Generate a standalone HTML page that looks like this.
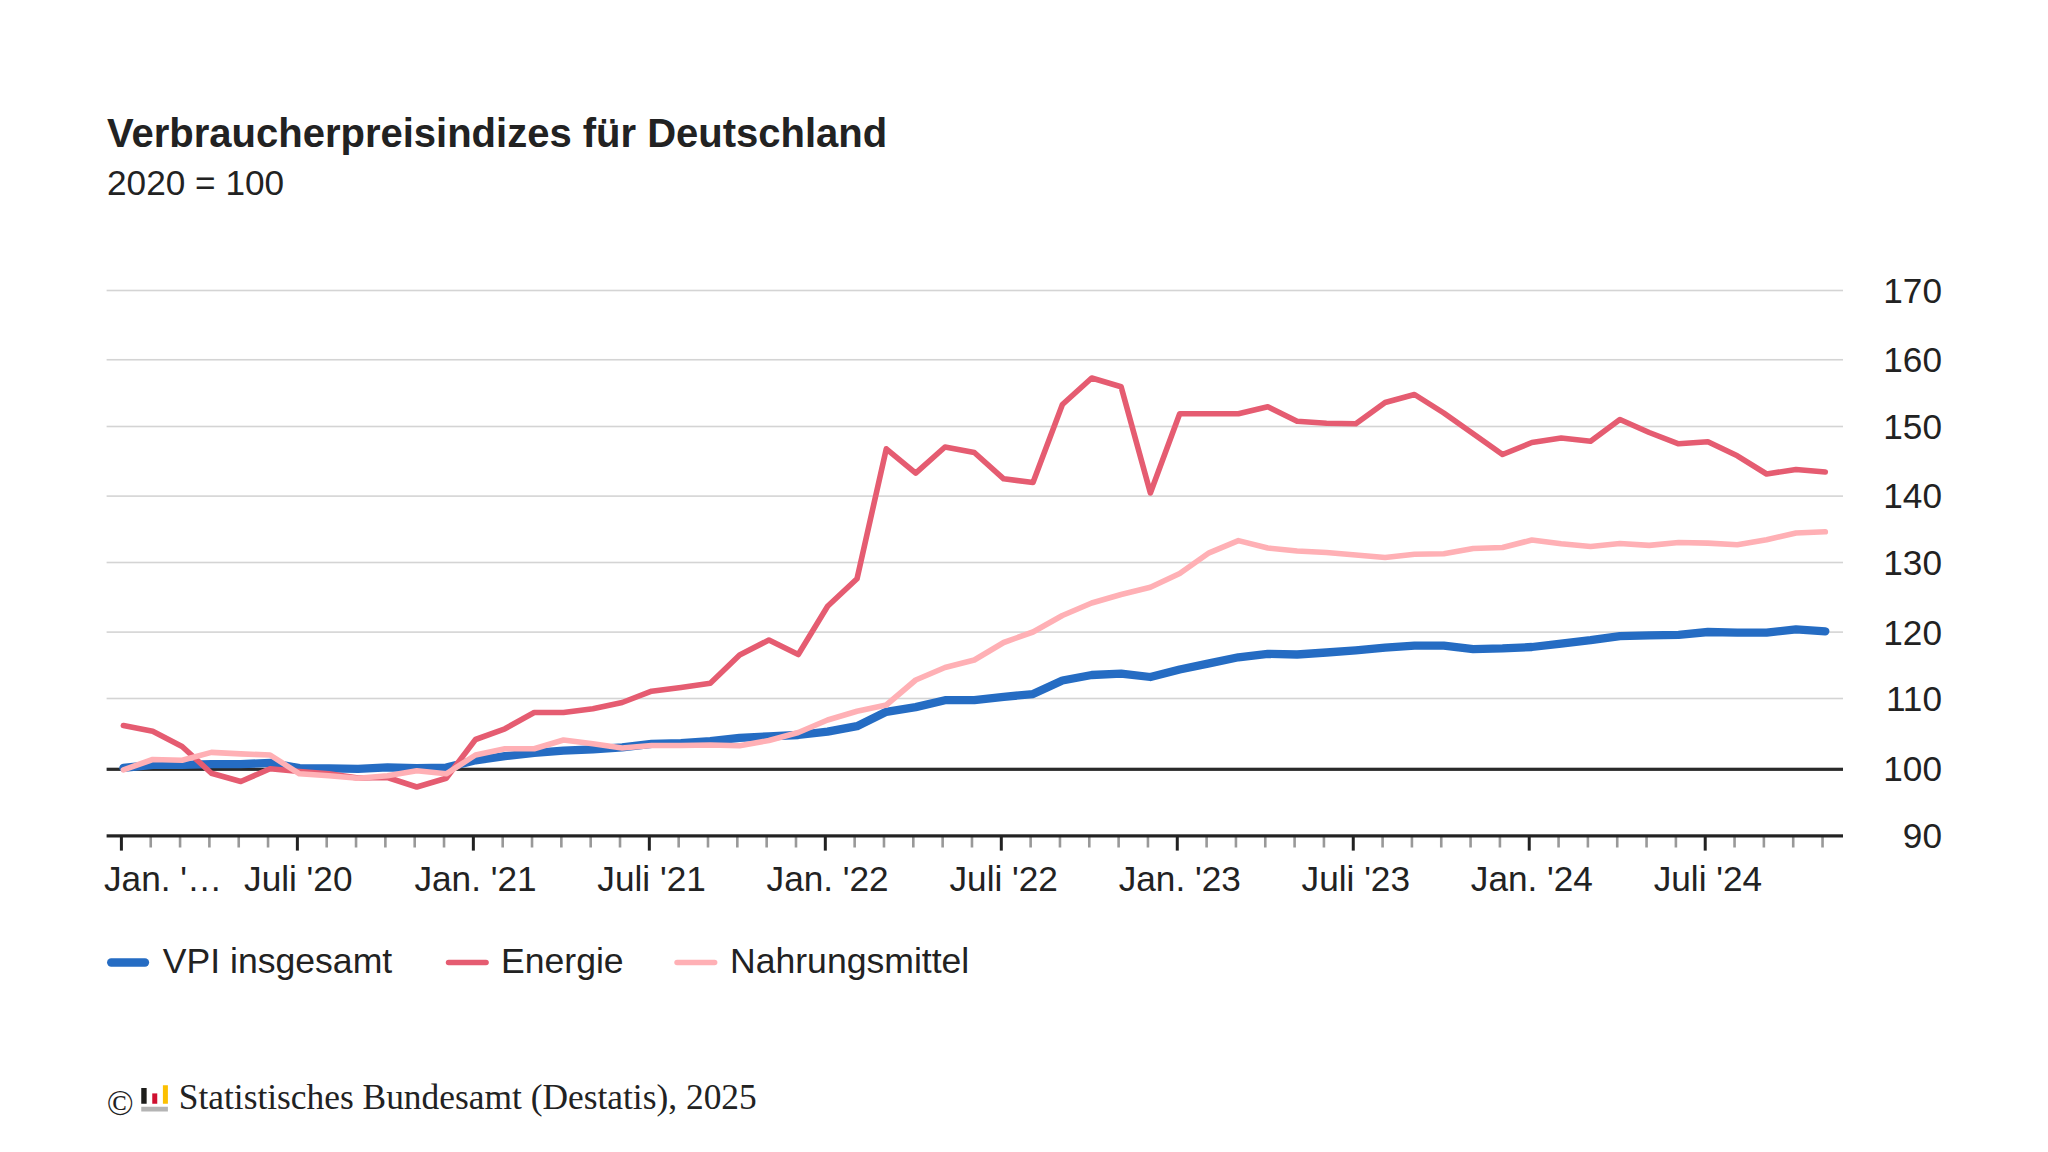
<!DOCTYPE html>
<html lang="de"><head><meta charset="utf-8"><title>Verbraucherpreisindizes für Deutschland</title>
<style>
html,body{margin:0;padding:0;background:#fff;}
body{width:2048px;height:1152px;position:relative;overflow:hidden;font-family:"Liberation Sans",sans-serif;color:#222;}
.t{position:absolute;white-space:nowrap;font-size:35.2px;line-height:40px;}
.title{left:107px;top:110px;font-size:40px;line-height:46px;font-weight:bold;}
.sub{left:107px;top:163px;}
.yl{right:106px;text-align:right;margin-top:-20px;}
.xl{top:859px;transform:translateX(-50%);}
.xl0{top:859px;left:104px;}
.lg{top:941.3px;font-size:35.6px;}
.foot{left:106px;top:1077px;font-size:35.4px;font-family:"Liberation Serif",serif;}
</style></head><body>
<svg width="2048" height="1152" viewBox="0 0 2048 1152" style="position:absolute;left:0;top:0">
<rect x="106.6" y="289.70" width="1736.4" height="1.6" fill="#d4d4d4"/>
<rect x="106.6" y="358.95" width="1736.4" height="1.6" fill="#d4d4d4"/>
<rect x="106.6" y="425.70" width="1736.4" height="1.6" fill="#d4d4d4"/>
<rect x="106.6" y="495.30" width="1736.4" height="1.6" fill="#d4d4d4"/>
<rect x="106.6" y="561.70" width="1736.4" height="1.6" fill="#d4d4d4"/>
<rect x="106.6" y="631.30" width="1736.4" height="1.6" fill="#d4d4d4"/>
<rect x="106.6" y="697.70" width="1736.4" height="1.6" fill="#d4d4d4"/>
<rect x="106.6" y="767.7" width="1736.4" height="3.2" fill="#2a2a2a"/>
<rect x="119.90" y="836" width="3" height="14.6" fill="#222"/>
<rect x="149.43" y="836" width="2.6" height="11.5" fill="#999"/>
<rect x="178.76" y="836" width="2.6" height="11.5" fill="#999"/>
<rect x="208.09" y="836" width="2.6" height="11.5" fill="#999"/>
<rect x="237.42" y="836" width="2.6" height="11.5" fill="#999"/>
<rect x="266.75" y="836" width="2.6" height="11.5" fill="#999"/>
<rect x="295.88" y="836" width="3" height="14.6" fill="#222"/>
<rect x="325.41" y="836" width="2.6" height="11.5" fill="#999"/>
<rect x="354.74" y="836" width="2.6" height="11.5" fill="#999"/>
<rect x="384.07" y="836" width="2.6" height="11.5" fill="#999"/>
<rect x="413.40" y="836" width="2.6" height="11.5" fill="#999"/>
<rect x="442.73" y="836" width="2.6" height="11.5" fill="#999"/>
<rect x="471.86" y="836" width="3" height="14.6" fill="#222"/>
<rect x="501.39" y="836" width="2.6" height="11.5" fill="#999"/>
<rect x="530.72" y="836" width="2.6" height="11.5" fill="#999"/>
<rect x="560.05" y="836" width="2.6" height="11.5" fill="#999"/>
<rect x="589.38" y="836" width="2.6" height="11.5" fill="#999"/>
<rect x="618.71" y="836" width="2.6" height="11.5" fill="#999"/>
<rect x="647.84" y="836" width="3" height="14.6" fill="#222"/>
<rect x="677.37" y="836" width="2.6" height="11.5" fill="#999"/>
<rect x="706.70" y="836" width="2.6" height="11.5" fill="#999"/>
<rect x="736.03" y="836" width="2.6" height="11.5" fill="#999"/>
<rect x="765.36" y="836" width="2.6" height="11.5" fill="#999"/>
<rect x="794.69" y="836" width="2.6" height="11.5" fill="#999"/>
<rect x="823.82" y="836" width="3" height="14.6" fill="#222"/>
<rect x="853.35" y="836" width="2.6" height="11.5" fill="#999"/>
<rect x="882.68" y="836" width="2.6" height="11.5" fill="#999"/>
<rect x="912.01" y="836" width="2.6" height="11.5" fill="#999"/>
<rect x="941.34" y="836" width="2.6" height="11.5" fill="#999"/>
<rect x="970.67" y="836" width="2.6" height="11.5" fill="#999"/>
<rect x="999.80" y="836" width="3" height="14.6" fill="#222"/>
<rect x="1029.33" y="836" width="2.6" height="11.5" fill="#999"/>
<rect x="1058.66" y="836" width="2.6" height="11.5" fill="#999"/>
<rect x="1087.99" y="836" width="2.6" height="11.5" fill="#999"/>
<rect x="1117.32" y="836" width="2.6" height="11.5" fill="#999"/>
<rect x="1146.65" y="836" width="2.6" height="11.5" fill="#999"/>
<rect x="1175.78" y="836" width="3" height="14.6" fill="#222"/>
<rect x="1205.31" y="836" width="2.6" height="11.5" fill="#999"/>
<rect x="1234.64" y="836" width="2.6" height="11.5" fill="#999"/>
<rect x="1263.97" y="836" width="2.6" height="11.5" fill="#999"/>
<rect x="1293.30" y="836" width="2.6" height="11.5" fill="#999"/>
<rect x="1322.63" y="836" width="2.6" height="11.5" fill="#999"/>
<rect x="1351.76" y="836" width="3" height="14.6" fill="#222"/>
<rect x="1381.29" y="836" width="2.6" height="11.5" fill="#999"/>
<rect x="1410.62" y="836" width="2.6" height="11.5" fill="#999"/>
<rect x="1439.95" y="836" width="2.6" height="11.5" fill="#999"/>
<rect x="1469.28" y="836" width="2.6" height="11.5" fill="#999"/>
<rect x="1498.61" y="836" width="2.6" height="11.5" fill="#999"/>
<rect x="1527.74" y="836" width="3" height="14.6" fill="#222"/>
<rect x="1557.27" y="836" width="2.6" height="11.5" fill="#999"/>
<rect x="1586.60" y="836" width="2.6" height="11.5" fill="#999"/>
<rect x="1615.93" y="836" width="2.6" height="11.5" fill="#999"/>
<rect x="1645.26" y="836" width="2.6" height="11.5" fill="#999"/>
<rect x="1674.59" y="836" width="2.6" height="11.5" fill="#999"/>
<rect x="1703.72" y="836" width="3" height="14.6" fill="#222"/>
<rect x="1733.25" y="836" width="2.6" height="11.5" fill="#999"/>
<rect x="1762.58" y="836" width="2.6" height="11.5" fill="#999"/>
<rect x="1791.91" y="836" width="2.6" height="11.5" fill="#999"/>
<rect x="1821.24" y="836" width="2.6" height="11.5" fill="#999"/>
<rect x="106.6" y="834.3" width="1736.4" height="3.2" fill="#222"/>
<polyline points="123.4,767.9 152.7,764.9 182.1,764.8 211.4,764.1 240.8,764.2 270.1,762.9 299.5,768.2 328.8,768.4 358.1,768.8 387.5,767.3 416.8,768.2 446.2,767.6 475.5,760.3 504.9,756.2 534.2,752.8 563.5,750.7 592.9,749.4 622.2,747.3 651.6,743.9 680.9,743.2 710.3,741.2 739.6,737.8 768.9,736.4 798.3,735.0 827.6,731.6 857.0,726.2 886.3,711.8 915.7,707.1 945.0,700.2 974.3,700.2 1003.7,696.8 1033.0,694.1 1062.4,680.5 1091.7,675.0 1121.1,673.6 1150.4,677.0 1179.7,669.5 1209.1,663.4 1238.4,657.3 1267.8,653.9 1297.1,654.5 1326.5,652.5 1355.8,650.4 1385.1,647.7 1414.5,645.7 1443.8,645.7 1473.2,649.1 1502.5,648.4 1531.9,647.0 1561.2,643.6 1590.6,640.2 1619.9,636.1 1649.2,635.4 1678.6,634.8 1707.9,632.0 1737.3,632.7 1766.6,632.7 1796.0,629.3 1825.3,631.3" fill="none" stroke="#256cc3" stroke-width="8.3" stroke-linejoin="round" stroke-linecap="round"/>
<polyline points="123.4,725.6 152.7,731.2 182.1,746.5 211.4,773.2 240.8,781.5 270.1,768.8 299.5,771.5 328.8,773.8 358.1,778.0 387.5,777.5 416.8,787.0 446.2,778.2 475.5,739.5 504.9,728.8 534.2,712.5 563.5,712.5 592.9,708.8 622.2,702.5 651.6,691.2 680.9,687.5 710.3,683.2 739.6,655.0 768.9,640.0 798.3,654.5 827.6,606.2 857.0,578.8 886.3,448.8 915.7,473.2 945.0,447.0 974.3,452.5 1003.7,478.8 1033.0,482.5 1062.4,404.5 1091.7,378.0 1121.1,386.8 1150.4,493.0 1179.7,413.8 1209.1,413.8 1238.4,413.8 1267.8,406.8 1297.1,421.2 1326.5,423.2 1355.8,423.8 1385.1,402.5 1414.5,394.5 1443.8,413.0 1473.2,433.8 1502.5,454.5 1531.9,442.5 1561.2,438.0 1590.6,441.2 1619.9,419.5 1649.2,432.5 1678.6,443.8 1707.9,441.8 1737.3,455.8 1766.6,474.0 1796.0,469.5 1825.3,472.0" fill="none" stroke="#e55c71" stroke-width="5.6" stroke-linejoin="round" stroke-linecap="round"/>
<polyline points="123.4,769.8 152.7,759.5 182.1,760.2 211.4,752.4 240.8,753.9 270.1,755.0 299.5,773.8 328.8,775.8 358.1,778.2 387.5,775.8 416.8,770.8 446.2,773.8 475.5,755.0 504.9,748.8 534.2,748.8 563.5,740.0 592.9,743.8 622.2,748.0 651.6,745.5 680.9,745.5 710.3,745.0 739.6,745.8 768.9,740.5 798.3,732.5 827.6,720.0 857.0,711.2 886.3,705.0 915.7,680.0 945.0,667.5 974.3,660.0 1003.7,642.5 1033.0,632.0 1062.4,615.5 1091.7,603.0 1121.1,594.5 1150.4,587.2 1179.7,573.5 1209.1,552.8 1238.4,540.6 1267.8,548.0 1297.1,551.0 1326.5,552.5 1355.8,555.0 1385.1,557.5 1414.5,554.2 1443.8,553.8 1473.2,548.5 1502.5,547.5 1531.9,540.0 1561.2,543.8 1590.6,546.5 1619.9,543.5 1649.2,545.4 1678.6,542.5 1707.9,543.1 1737.3,544.8 1766.6,539.8 1796.0,533.0 1825.3,531.8" fill="none" stroke="#ffb0b5" stroke-width="5.6" stroke-linejoin="round" stroke-linecap="round"/>
<line x1="111.2" y1="962.5" x2="145" y2="962.5" stroke="#256cc3" stroke-width="8.3" stroke-linecap="round"/>
<line x1="448.6" y1="962.5" x2="486" y2="962.5" stroke="#e55c71" stroke-width="5.6" stroke-linecap="round"/>
<line x1="677.1" y1="962.5" x2="714.6" y2="962.5" stroke="#ffb0b5" stroke-width="5.6" stroke-linecap="round"/>
<rect x="141.25" y="1088" width="5.4" height="15.75" fill="#1d1d1b"/>
<rect x="152.25" y="1093.4" width="5" height="10.35" fill="#cf1030"/>
<rect x="162.9" y="1085.25" width="5" height="18.5" fill="#fcc000"/>
<rect x="141.25" y="1106.75" width="26.65" height="4.75" fill="#b4b4b4"/>
</svg>
<div class="t title">Verbraucherpreisindizes für Deutschland</div>
<div class="t sub">2020 = 100</div>
<div class="t yl" style="top:290.50px">170</div>
<div class="t yl" style="top:359.75px">160</div>
<div class="t yl" style="top:426.50px">150</div>
<div class="t yl" style="top:496.00px">140</div>
<div class="t yl" style="top:562.50px">130</div>
<div class="t yl" style="top:632.50px">120</div>
<div class="t yl" style="top:698.50px">110</div>
<div class="t yl" style="top:769.25px">100</div>
<div class="t yl" style="top:836.25px">90</div>
<div class="t xl" style="left:298.26px">Juli '20</div>
<div class="t xl" style="left:475.52px">Jan. '21</div>
<div class="t xl" style="left:651.57px">Juli '21</div>
<div class="t xl" style="left:827.63px">Jan. '22</div>
<div class="t xl" style="left:1003.69px">Juli '22</div>
<div class="t xl" style="left:1179.75px">Jan. '23</div>
<div class="t xl" style="left:1355.81px">Juli '23</div>
<div class="t xl" style="left:1531.86px">Jan. '24</div>
<div class="t xl" style="left:1707.92px">Juli '24</div>
<div class="t xl0">Jan. '…</div>
<div class="t lg" style="left:162.8px">VPI insgesamt</div>
<div class="t lg" style="left:501px">Energie</div>
<div class="t lg" style="left:730px">Nahrungsmittel</div>
<div class="t foot"><span style="position:relative;top:5.5px;left:0.8px">©</span><span style="display:inline-block;width:37px"></span> Statistisches Bundesamt (Destatis), 2025</div>
</body></html>
